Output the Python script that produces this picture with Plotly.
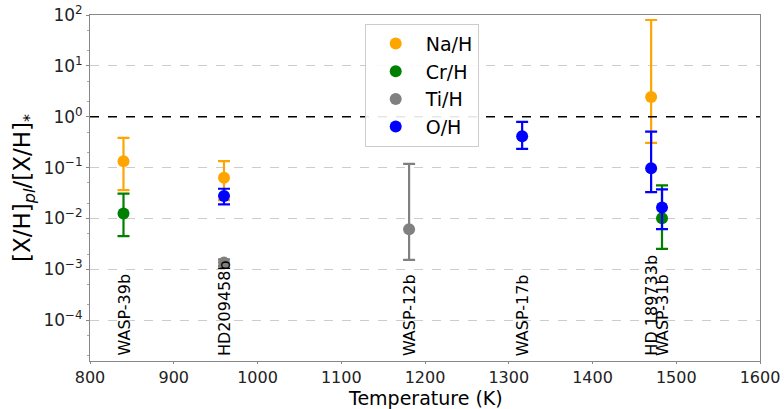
import plotly.graph_objects as go

# Planet labels and temperatures
planets = ["WASP-39b", "HD209458b", "WASP-12b", "WASP-17b", "HD 189733b", "WASP-31b"]
planet_temps = [840, 960, 1181, 1316, 1470, 1483]

# Na/H
na_T = [840, 960, 1470]
na_val = [0.134, 0.063, 2.44]
na_hi = [0.385, 0.134, 79.8]
na_lo = [0.036, 0.023, 0.307]

# Cr/H
cr_T = [840, 1483]
cr_val = [0.0126, 0.0101]
cr_hi = [0.031, 0.0447]
cr_lo = [0.0045, 0.00253]

# Ti/H
ti_T = [960, 1181]
ti_val = [0.00136, 0.00615]
ti_hi = [0.00158, 0.119]
ti_lo = [0.00117, 0.00154]

# O/H
o_T = [960, 1316, 1470, 1483]
o_val = [0.0276, 0.413, 0.0975, 0.0164]
o_hi = [0.0385, 0.79, 0.51, 0.0373]
o_lo = [0.019, 0.234, 0.033, 0.0062]

series = [
    ("Na/H", "#FFA500", na_T, na_val, na_hi, na_lo),
    ("Cr/H", "#008000", cr_T, cr_val, cr_hi, cr_lo),
    ("Ti/H", "#808080", ti_T, ti_val, ti_hi, ti_lo),
    ("O/H", "#0000FF", o_T, o_val, o_hi, o_lo),
]

fig = go.Figure()
for name, color, T, v, hi, lo in series:
    fig.add_trace(go.Scatter(
        x=T, y=v, mode="markers", name=name,
        marker=dict(color=color, size=12, symbol="circle"),
        error_y=dict(type="data", symmetric=False,
                     array=[h - c for h, c in zip(hi, v)],
                     arrayminus=[c - l for c, l in zip(v, lo)],
                     color=color, thickness=2.2, width=6),
    ))

# horizontal reference line at 1
fig.add_shape(type="line", xref="paper", x0=0, x1=1, yref="y", y0=1, y1=1,
              line=dict(color="black", width=1.3, dash="dash"))

for p, t in zip(planets, planet_temps):
    fig.add_annotation(x=t, y=0, xref="x", yref="paper", text=p, textangle=-90,
                       showarrow=False, xanchor="center", yanchor="bottom", yshift=3,
                       font=dict(family="DejaVu Sans", size=16, color="black"))

# x-axis title
fig.add_annotation(x=0.5, y=0, xref="paper", yref="paper", text="Temperature (K)",
                   showarrow=False, xanchor="center", yanchor="top", yshift=-25,
                   borderpad=0,
                   font=dict(family="DejaVu Sans", size=19, color="black"))

ytv = [1e-4, 1e-3, 1e-2, 1e-1, 1, 10, 100]
ytt = ["10<sup>\u22124</sup>", "10<sup>\u22123</sup>", "10<sup>\u22122</sup>", "10<sup>\u22121</sup>",
       "10<sup>0</sup>", "10<sup>1</sup>", "10<sup>2</sup>"]

fig.update_layout(
    width=784, height=409,
    margin=dict(l=90, r=24, t=15, b=48),
    paper_bgcolor="white", plot_bgcolor="white",
    font=dict(family="DejaVu Sans", color="#222222", size=16),
    showlegend=True,
    legend=dict(x=0.41, y=0.975, xanchor="left", yanchor="top",
                bgcolor="rgba(255,255,255,0.9)", bordercolor="#cccccc", borderwidth=1,
                font=dict(size=19, color="black"), itemsizing="constant", itemwidth=50),
    xaxis=dict(range=[800, 1600], dtick=100, tick0=800, showgrid=False, zeroline=False,
               showline=True, linecolor="#888888", mirror=True, linewidth=1,
               ticks="outside", ticklen=2, tickcolor="#888888", automargin=False,
               tickfont=dict(size=16, color="#222222")),
    yaxis=dict(type="log", range=[-4.8, 2], tickvals=ytv, ticktext=ytt,
               showgrid=True, gridcolor="#cccccc", griddash="dash", gridwidth=1,
               zeroline=False, showline=True, linecolor="#888888", mirror=True, linewidth=1,
               ticks="outside", ticklen=3, tickcolor="#888888", automargin=False,
               minor=dict(ticks="outside", ticklen=2, tickcolor="#aaaaaa", showgrid=False),
               tickfont=dict(size=17, color="#222222"),
               title=dict(text="[X/H]<sub><i>pl</i></sub>/[X/H]<sub>*</sub>",
                          font=dict(size=23, color="black"), standoff=6)),
)

fig.write_html("out.html")
